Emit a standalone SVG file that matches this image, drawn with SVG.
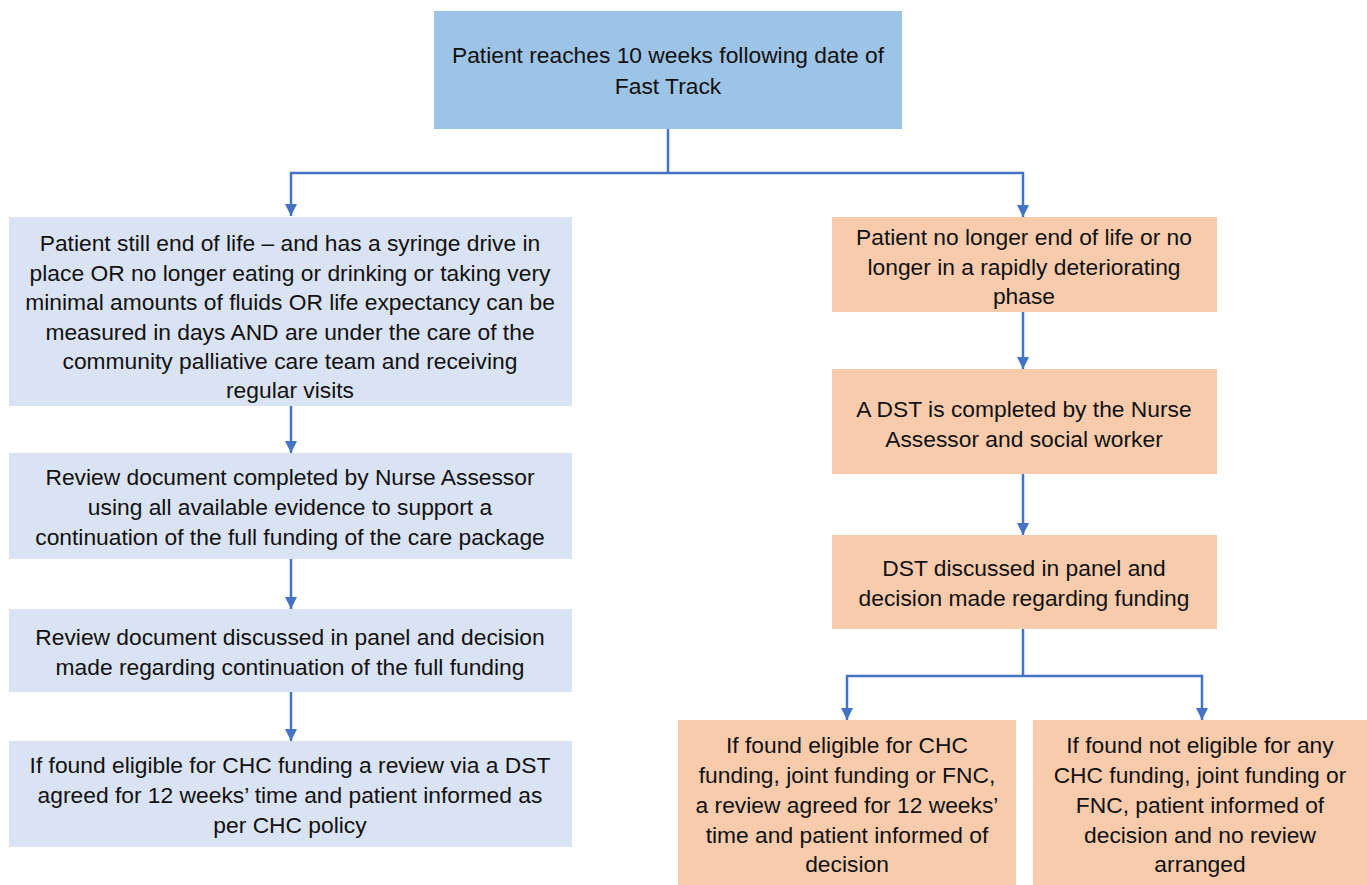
<svg xmlns="http://www.w3.org/2000/svg" width="1367" height="885" viewBox="0 0 1367 885">
  <style>
    .blue-top { fill: #9DC3E6; }
    .blue { fill: #DAE3F3; }
    .peach { fill: #F8CBAD; }
    .lbl { font-family: "Liberation Sans", Arial, sans-serif; font-size: 22.8px; fill: #111111; text-anchor: middle; }
    .wire { fill: none; stroke: #4472C4; stroke-width: 2.5; }
  </style>
  <defs>
    <marker id="arrow" viewBox="0 0 10 10" refX="10" refY="5" markerWidth="4.8" markerHeight="4.8" markerUnits="strokeWidth" orient="auto">
      <path d="M0,0 L10,5 L0,10 Z" fill="#4472C4"/>
    </marker>
  </defs>
  <rect width="1367" height="885" fill="#FFFFFF"/>

  <g id="connectors">
    <path class="wire" d="M668,129 V173"/>
    <path class="wire" d="M668,173 H291 V216" marker-end="url(#arrow)"/>
    <path class="wire" d="M668,173 H1023 V217" marker-end="url(#arrow)"/>
    <path class="wire" d="M291,406 V453" marker-end="url(#arrow)"/>
    <path class="wire" d="M291,559 V609" marker-end="url(#arrow)"/>
    <path class="wire" d="M291,692 V741" marker-end="url(#arrow)"/>
    <path class="wire" d="M1023,312 V369" marker-end="url(#arrow)"/>
    <path class="wire" d="M1023,474 V535" marker-end="url(#arrow)"/>
    <path class="wire" d="M1023,629 V676"/>
    <path class="wire" d="M1023,676 H847 V720" marker-end="url(#arrow)"/>
    <path class="wire" d="M1023,676 H1202 V720" marker-end="url(#arrow)"/>
  </g>

  <g id="start">
    <rect class="blue-top" x="434" y="11" width="468" height="118"/>
    <text class="lbl" x="668" y="63">Patient reaches 10 weeks following date of</text>
    <text class="lbl" x="668" y="94">Fast Track</text>
  </g>

  <g id="end-of-life">
    <rect class="blue" x="9" y="217" width="563" height="189"/>
    <text class="lbl" x="290" y="251">Patient still end of life – and has a syringe drive in</text>
    <text class="lbl" x="290" y="281">place OR no longer eating or drinking or taking very</text>
    <text class="lbl" x="290" y="310">minimal amounts of fluids OR life expectancy can be</text>
    <text class="lbl" x="290" y="340">measured in days AND are under the care of the</text>
    <text class="lbl" x="290" y="369">community palliative care team and receiving</text>
    <text class="lbl" x="290" y="398">regular visits</text>
  </g>

  <g id="review-document">
    <rect class="blue" x="9" y="453" width="563" height="106"/>
    <text class="lbl" x="290" y="485">Review document completed by Nurse Assessor</text>
    <text class="lbl" x="290" y="515">using all available evidence to support a</text>
    <text class="lbl" x="290" y="545">continuation of the full funding of the care package</text>
  </g>

  <g id="review-panel">
    <rect class="blue" x="9" y="609" width="563" height="83"/>
    <text class="lbl" x="290" y="645">Review document discussed in panel and decision</text>
    <text class="lbl" x="290" y="675">made regarding continuation of the full funding</text>
  </g>

  <g id="chc-review">
    <rect class="blue" x="9" y="741" width="563" height="106"/>
    <text class="lbl" x="290" y="773">If found eligible for CHC funding a review via a DST</text>
    <text class="lbl" x="290" y="803">agreed for 12 weeks’ time and patient informed as</text>
    <text class="lbl" x="290" y="833">per CHC policy</text>
  </g>

  <g id="not-end-of-life">
    <rect class="peach" x="832" y="217" width="385" height="95"/>
    <text class="lbl" x="1024" y="245">Patient no longer end of life or no</text>
    <text class="lbl" x="1024" y="275">longer in a rapidly deteriorating</text>
    <text class="lbl" x="1024" y="304">phase</text>
  </g>

  <g id="dst-completed">
    <rect class="peach" x="832" y="369" width="385" height="105"/>
    <text class="lbl" x="1024" y="417">A DST is completed by the Nurse</text>
    <text class="lbl" x="1024" y="447">Assessor and social worker</text>
  </g>

  <g id="dst-panel">
    <rect class="peach" x="832" y="535" width="385" height="94"/>
    <text class="lbl" x="1024" y="576">DST discussed in panel and</text>
    <text class="lbl" x="1024" y="606">decision made regarding funding</text>
  </g>

  <g id="eligible">
    <rect class="peach" x="678" y="720" width="338" height="165"/>
    <text class="lbl" x="847" y="753">If found eligible for CHC</text>
    <text class="lbl" x="847" y="783">funding, joint funding or FNC,</text>
    <text class="lbl" x="847" y="813">a review agreed for 12 weeks’</text>
    <text class="lbl" x="847" y="843">time and patient informed of</text>
    <text class="lbl" x="847" y="872">decision</text>
  </g>

  <g id="not-eligible">
    <rect class="peach" x="1033" y="720" width="334" height="165"/>
    <text class="lbl" x="1200" y="753">If found not eligible for any</text>
    <text class="lbl" x="1200" y="783">CHC funding, joint funding or</text>
    <text class="lbl" x="1200" y="813">FNC, patient informed of</text>
    <text class="lbl" x="1200" y="843">decision and no review</text>
    <text class="lbl" x="1200" y="872">arranged</text>
  </g>
</svg>
